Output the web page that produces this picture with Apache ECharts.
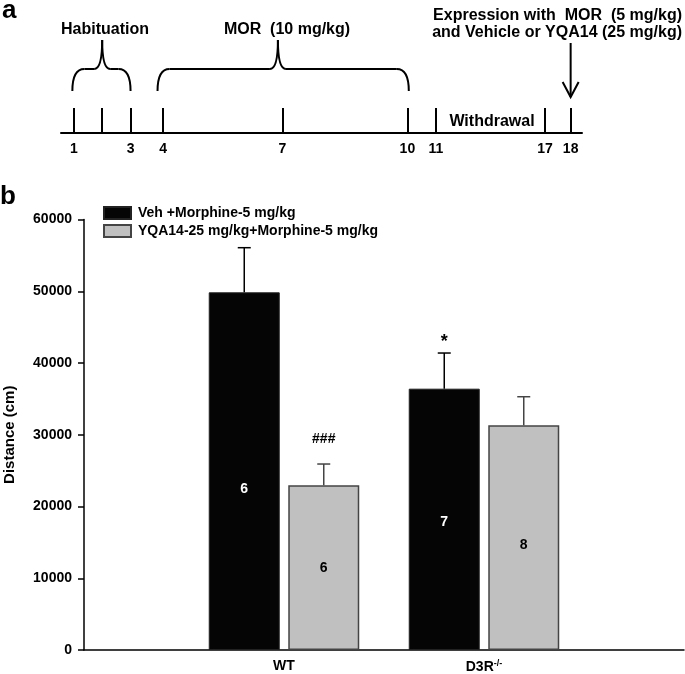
<!DOCTYPE html>
<html>
<head>
<meta charset="utf-8">
<script src="https://cdn.jsdelivr.net/npm/echarts@6/dist/echarts.min.js"></script>
<style>
html,body{margin:0;padding:0;background:#fff;}
#chart{width:685px;height:674px;}
</style>
</head>
<body>
<div id="chart"></div>
<script>
// ---- Data: panel b ----
var categories = ['', 'WT', 'D3R-/-', ''];
var seriesNames = ['Veh +Morphine-5 mg/kg', 'YQA14-25 mg/kg+Morphine-5 mg/kg'];
var vehMeans = [null, 49850, 36420, null];
var vehSEM   = [null, 6220, 4970, null];
var yqaMeans = [null, 22960, 31320, null];
var yqaSEM   = [null, 2960, 3980, null];
var vehN = ['', '6', '7', ''];
var yqaN = ['', '6', '8', ''];
var vehSig = ['', '', '*', ''];
var yqaSig = ['', '###', '', ''];
var yTicks = [0, 10000, 20000, 30000, 40000, 50000, 60000];

// ---- Data: panel a (timeline schematic) ----
var timelineDays   = ['1', '', '3', '4', '7', '10', '11', '17', '18'];
var timelinePos    = [0.45, 1.45, 2.45, 3.6, 7.8, 12.2, 13.2, 17.05, 17.95];
var braces = [[0.4, 1.45, 2.45], [3.4, 7.64, 12.25]];
var arrowPos = [17.95];

var FONT = 'Arial, "Liberation Sans", sans-serif';

var chart = echarts.init(document.getElementById('chart'), null, {renderer: 'canvas'});

function barSeriesData(means, ns, offsets) {
  return means.map(function (v, i) {
    return {value: v, label: {formatter: ns[i], offset: [0, offsets[i]]}};
  });
}
var vehLabelOffset = [0, 18, 3, 0];
var yqaLabelOffset = [0, 1, 8, 0];

function errData(means, sem, sig) {
  var out = [];
  means.forEach(function (m, i) {
    if (m != null) out.push([i, m, m + sem[i], sig[i]]);
  });
  return out;
}

function errRender(offset, color) {
  return function (params, api) {
    var base = api.coord([api.value(0), api.value(1)]);
    var top = api.coord([api.value(0), api.value(2)]);
    var cx = base[0] + offset;
    var sig = api.value(3);
    var children = [
      {type: 'line', shape: {x1: cx, y1: base[1], x2: cx, y2: top[1]}, style: {stroke: color, lineWidth: 1.5}},
      {type: 'line', shape: {x1: cx - 6.5, y1: top[1], x2: cx + 6.5, y2: top[1]}, style: {stroke: color, lineWidth: 1.5}}
    ];
    if (sig) {
      children.push({type: 'text', x: cx, y: top[1] + (sig === '*' ? -11 : -25),
        style: {text: sig, fill: '#000', font: 'bold ' + (sig === '*' ? 18 : 14) + 'px ' + FONT, align: 'center', verticalAlign: 'middle'}});
    }
    return {type: 'group', children: children};
  };
}

function braceRender(params, api) {
  var x0 = api.coord([api.value(0), 0]);
  var pk = api.coord([api.value(1), 0])[0];
  var x1 = api.coord([api.value(2), 0])[0];
  var yb = x0[1];
  var xa = x0[0];
  var yt = yb - 42, yh = yb - 64, yp = yb - 93;
  var st = {stroke: '#000', lineWidth: 2, fill: null};
  return {type: 'group', children: [
    {type: 'bezierCurve', shape: {x1: xa, y1: yt, x2: xa + 12, y2: yh, cpx1: xa, cpy1: yh}, style: st},
    {type: 'line', shape: {x1: xa + 12, y1: yh, x2: pk - 8, y2: yh}, style: st},
    {type: 'bezierCurve', shape: {x1: pk - 8, y1: yh, x2: pk, y2: yp, cpx1: pk, cpy1: yh}, style: st},
    {type: 'bezierCurve', shape: {x1: pk, y1: yp, x2: pk + 8, y2: yh, cpx1: pk, cpy1: yh}, style: st},
    {type: 'line', shape: {x1: pk + 8, y1: yh, x2: x1 - 12, y2: yh}, style: st},
    {type: 'bezierCurve', shape: {x1: x1 - 12, y1: yh, x2: x1, y2: yt, cpx1: x1, cpy1: yh}, style: st}
  ]};
}

function arrowRender(params, api) {
  var p = api.coord([api.value(0), 0]);
  var x = p[0], yb = p[1];
  var st = {stroke: '#000', lineWidth: 2, fill: null};
  return {type: 'group', children: [
    {type: 'line', shape: {x1: x, y1: yb - 90, x2: x, y2: yb - 36}, style: st},
    {type: 'polyline', shape: {points: [[x - 8, yb - 51], [x, yb - 36], [x + 8, yb - 51]]}, style: st}
  ]};
}

var option = {
  animation: false,
  backgroundColor: '#fff',
  textStyle: {fontFamily: FONT},
  legend: {
    left: 98, top: 201, orient: 'vertical', itemWidth: 27, itemHeight: 12, itemGap: 4,
    icon: 'rect',
    data: seriesNames,
    textStyle: {fontFamily: FONT, fontWeight: 'bold', fontSize: 14, color: '#000', padding: [0, 0, 0, 2]}
  },
  grid: [
    {left: 84, right: 1, top: 219.5, bottom: 24, containLabel: false, outerBoundsMode: 'none'},
    {left: 61, right: 103, top: 30, bottom: 541, containLabel: false, outerBoundsMode: 'none'}
  ],
  xAxis: [
    {
      gridIndex: 0, type: 'category', data: categories, boundaryGap: false,
      axisLine: {lineStyle: {color: '#000', width: 1.5}},
      axisTick: {show: false},
      axisLabel: {
        interval: 0, margin: 9, fontSize: 14, fontWeight: 'bold', color: '#000', fontFamily: FONT,
        formatter: function (v) {
          var i = v.indexOf('-/-');
          return i >= 0 ? v.slice(0, i) + '{sup|' + v.slice(i) + '}' : v;
        },
        rich: {sup: {fontSize: 9, fontWeight: 'bold', fontFamily: FONT, color: '#000', verticalAlign: 'top', padding: [0, 0, 7, 0]}}
      },
      splitLine: {show: false}
    },
    {
      gridIndex: 1, type: 'value', min: 0, max: 18.35,
      axisLine: {show: true, onZero: false, lineStyle: {color: '#000', width: 2}},
      axisTick: {show: true, inside: true, length: 25, customValues: timelinePos, lineStyle: {color: '#000', width: 2}},
      axisLabel: {
        show: true, margin: 9, fontSize: 14, fontWeight: 'bold', color: '#000', fontFamily: FONT,
        customValues: timelinePos,
        formatter: function (v) {
          for (var i = 0; i < timelinePos.length; i++) {
            if (Math.abs(timelinePos[i] - v) < 1e-6) return timelineDays[i];
          }
          return '';
        }
      },
      splitLine: {show: false}
    }
  ],
  yAxis: [
    {
      gridIndex: 0, type: 'value', min: 0, max: 60000, interval: 10000,
      name: 'Distance (cm)', nameLocation: 'middle', nameGap: 67, nameRotate: 90,
      nameTextStyle: {fontSize: 15, fontWeight: 'bold', color: '#000', fontFamily: FONT},
      axisLine: {show: true, lineStyle: {color: '#000', width: 1.5}},
      axisTick: {show: true, inside: false, length: 6, lineStyle: {color: '#000', width: 1.5}},
      axisLabel: {margin: 12, fontSize: 14, fontWeight: 'bold', color: '#000', fontFamily: FONT,
        formatter: function (v) { return yTicks.indexOf(v) >= 0 ? String(v) : ''; }},
      splitLine: {show: false}
    },
    {gridIndex: 1, type: 'value', min: 0, max: 1, show: false}
  ],
  series: [
    {
      name: seriesNames[0], type: 'bar', xAxisIndex: 0, yAxisIndex: 0,
      barWidth: 71, barGap: '12%',
      itemStyle: {color: '#050505', borderColor: '#222', borderWidth: 1},
      label: {show: true, position: 'inside', color: '#fff', fontSize: 14, fontWeight: 'bold', fontFamily: FONT},
      data: barSeriesData(vehMeans, vehN, vehLabelOffset), z: 2
    },
    {
      name: seriesNames[1], type: 'bar', xAxisIndex: 0, yAxisIndex: 0,
      barWidth: 71, barGap: '12%',
      itemStyle: {color: '#c0c0c0', borderColor: '#444', borderWidth: 1.5},
      label: {show: true, position: 'inside', color: '#000', fontSize: 14, fontWeight: 'bold', fontFamily: FONT},
      data: barSeriesData(yqaMeans, yqaN, yqaLabelOffset), z: 2
    },
    {
      type: 'custom', xAxisIndex: 0, yAxisIndex: 0, z: 3,
      renderItem: errRender(-39.75, '#000'), data: errData(vehMeans, vehSEM, vehSig), silent: true
    },
    {
      type: 'custom', xAxisIndex: 0, yAxisIndex: 0, z: 3,
      renderItem: errRender(39.75, '#444'), data: errData(yqaMeans, yqaSEM, yqaSig), silent: true
    },
    {
      type: 'custom', xAxisIndex: 1, yAxisIndex: 1, z: 3,
      renderItem: braceRender, data: braces, silent: true
    },
    {
      type: 'custom', xAxisIndex: 1, yAxisIndex: 1, z: 3,
      renderItem: arrowRender, data: arrowPos.map(function (p) { return [p]; }), silent: true
    }
  ],
  graphic: [
    {type: 'text', left: 2, top: -2, style: {text: 'a', font: 'bold 26px ' + FONT, fill: '#000'}},
    {type: 'text', left: 0, top: 184, style: {text: 'b', font: 'bold 26px ' + FONT, fill: '#000'}},
    {type: 'text', x: 105, y: 30, style: {text: 'Habituation', font: 'bold 16px ' + FONT, fill: '#000', align: 'center', verticalAlign: 'middle'}},
    {type: 'text', x: 287, y: 30, style: {text: 'MOR  (10 mg/kg)', font: 'bold 16px ' + FONT, fill: '#000', align: 'center', verticalAlign: 'middle'}},
    {type: 'text', x: 492, y: 122, style: {text: 'Withdrawal', font: 'bold 16px ' + FONT, fill: '#000', align: 'center', verticalAlign: 'middle'}},
    {type: 'text', x: 682, y: 16, style: {text: 'Expression with  MOR  (5 mg/kg)', font: 'bold 16px ' + FONT, fill: '#000', align: 'right', verticalAlign: 'middle'}},
    {type: 'text', x: 682, y: 33, style: {text: 'and Vehicle or YQA14 (25 mg/kg)', font: 'bold 16px ' + FONT, fill: '#000', align: 'right', verticalAlign: 'middle'}}
  ]
};
chart.setOption(option);
</script>
</body>
</html>
